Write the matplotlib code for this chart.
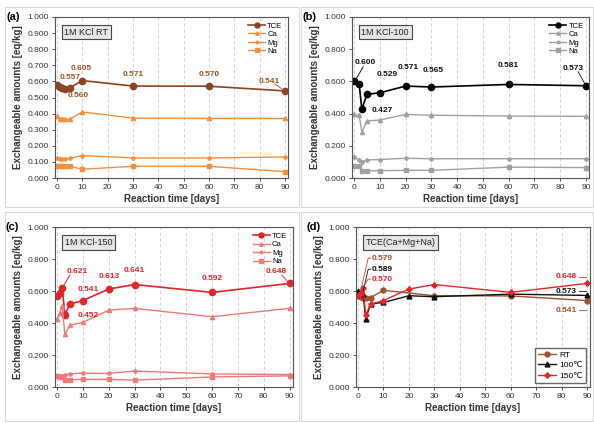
import matplotlib
matplotlib.use("Agg")
import matplotlib.pyplot as plt
from matplotlib.patches import Rectangle

plt.rcParams['font.family'] = ['Liberation Sans', 'DejaVu Sans']

# reaction times [days]
days_rt = [0, 1, 2, 3, 5, 10, 30, 60, 90]
days_100 = [0, 2, 3, 5, 10, 20, 30, 60, 90]
days_150 = [0, 1, 2, 3, 5, 10, 20, 30, 60, 90]

# (a) 1M KCl RT
tce_rt = [0.579, 0.565, 0.557, 0.555, 0.560, 0.605, 0.571, 0.570, 0.541]
ca_rt = [0.385, 0.368, 0.365, 0.365, 0.365, 0.410, 0.372, 0.370, 0.370]
mg_rt = [0.122, 0.120, 0.120, 0.120, 0.122, 0.140, 0.125, 0.125, 0.131]
na_rt = [0.078, 0.076, 0.074, 0.074, 0.074, 0.055, 0.073, 0.073, 0.040]

# (b) 1M KCl-100
tce_100 = [0.600, 0.582, 0.427, 0.520, 0.529, 0.571, 0.565, 0.581, 0.573]
ca_100 = [0.395, 0.390, 0.285, 0.355, 0.360, 0.395, 0.390, 0.385, 0.383]
mg_100 = [0.130, 0.112, 0.100, 0.113, 0.115, 0.123, 0.120, 0.120, 0.120]
na_100 = [0.072, 0.075, 0.045, 0.045, 0.046, 0.048, 0.048, 0.068, 0.065]

# (c) 1M KCl-150
tce_150 = [0.570, 0.589, 0.621, 0.452, 0.519, 0.541, 0.613, 0.641, 0.592, 0.648]
ca_150 = [0.425, 0.464, 0.508, 0.329, 0.388, 0.404, 0.481, 0.492, 0.440, 0.492]
mg_150 = [0.072, 0.070, 0.072, 0.075, 0.083, 0.087, 0.085, 0.100, 0.082, 0.078]
na_150 = [0.070, 0.065, 0.060, 0.045, 0.045, 0.048, 0.048, 0.043, 0.063, 0.070]

# value labels: (text, x, y) in data units
labels_a = [("0.557", 5, 0.625), ("0.560", 8.5, 0.51), ("0.605", 9.5, 0.68),
            ("0.571", 30, 0.64), ("0.570", 60, 0.645), ("0.541", 84, 0.60)]
labels_b = [("0.600", 4.5, 0.72), ("0.427", 11, 0.42), ("0.529", 13, 0.64),
            ("0.571", 21, 0.685), ("0.565", 30.5, 0.67), ("0.581", 60, 0.70),
            ("0.573", 85, 0.68)]
labels_c = [("0.621", 8, 0.72), ("0.541", 12, 0.61), ("0.452", 12, 0.45),
            ("0.613", 20, 0.69), ("0.641", 30, 0.73), ("0.592", 60, 0.68),
            ("0.648", 85, 0.72)]

fig = plt.figure(figsize=(5.94, 4.23), dpi=100)

# panel frames
for x0, y0, w, h in [(5, 216, 294, 200), (301, 216, 292, 200),
                     (5, 2, 294, 209), (301, 2, 292, 209)]:
    fig.patches.append(Rectangle((x0 / 594, y0 / 423), w / 594, h / 423,
                                 transform=fig.transFigure, fill=False,
                                 edgecolor='#d9d9d9', linewidth=0.8))

ax_a = fig.add_axes([0.0926, 0.579, 0.392, 0.381])
ax_b = fig.add_axes([0.5926, 0.579, 0.399, 0.381])
ax_c = fig.add_axes([0.0926, 0.085, 0.400, 0.378])
ax_d = fig.add_axes([0.5993, 0.085, 0.394, 0.378])


def style_axis(ax, letter, title, ystep):
    ax.set_xlim(-0.8, 91.2)
    ax.set_ylim(0, 1.0)
    ax.set_xticks(range(0, 91, 10))
    n = int(round(1.0 / ystep))
    ax.set_yticks([i * ystep for i in range(n + 1)])
    ax.set_yticklabels([f"{i * ystep:.3f}" for i in range(n + 1)])
    ax.tick_params(labelsize=6, length=2.5, width=0.6, pad=2, colors='#333333')
    ax.grid(axis='x', linestyle=(0, (4, 3)), color='#cccccc', linewidth=0.6)
    ax.set_axisbelow(True)
    for s in ax.spines.values():
        s.set_color('#555555')
        s.set_linewidth(0.8)
    ax.set_xlabel("Reaction time [days]", fontsize=7, fontweight='bold',
                  color='#333333', labelpad=2)
    ax.set_ylabel("Exchangeable amounts [eq/kg]", fontsize=7,
                  fontweight='bold', color='#333333', labelpad=3)
    ax.text(-0.21, 1.0, f"({letter})", transform=ax.transAxes, fontsize=8,
            fontweight='bold', va='center', ha='left')
    ax.text(0.04, 0.905, title, transform=ax.transAxes, fontsize=6.5,
            va='center', ha='left', color='#222222',
            bbox=dict(boxstyle='square,pad=0.3', facecolor='#e6e6e6',
                      edgecolor='#444444', linewidth=0.8))


def draw_ions(ax, days, tce, ca, mg, na, c_main, c_ion):
    ax.plot(days, tce, color=c_main, marker='o', markersize=4.5, lw=1.2,
            label='TCE')
    ax.plot(days, ca, color=c_ion, marker='^', markersize=3, lw=1.0,
            label='Ca')
    ax.plot(days, mg, color=c_ion, marker='P', markersize=2.5, lw=1.0,
            label='Mg')
    ax.plot(days, na, color=c_ion, marker='s', markersize=3.5, lw=1.0,
            label='Na')
    leg = ax.legend(loc='upper right', frameon=False, fontsize=5.5,
                    handlelength=2.2, handletextpad=0.3, labelspacing=0.15,
                    borderaxespad=0.3, markerscale=0.8)
    return leg


def put_labels(ax, labels, color):
    for txt, x, y in labels:
        ax.text(x, y, txt, fontsize=6, fontweight='bold', color=color,
                ha='center', va='center')


# (a)
style_axis(ax_a, 'a', '1M KCl RT', 0.1)
draw_ions(ax_a, days_rt, tce_rt, ca_rt, mg_rt, na_rt, '#8a4520', '#f5913e')
put_labels(ax_a, labels_a, '#9a5528')
ax_a.plot([86, 90], [0.585, tce_rt[-1]], color='#9a5528', lw=0.6)

# (b)
style_axis(ax_b, 'b', '1M KCl-100', 0.2)
draw_ions(ax_b, days_100, tce_100, ca_100, mg_100, na_100, '#000000', '#a0a0a0')
put_labels(ax_b, labels_b, '#111111')
ax_b.plot([0.3, 3.5], [tce_100[0], 0.69], color='#111111', lw=0.7)
ax_b.plot([87, 90], [0.66, tce_100[-1]], color='#111111', lw=0.6)

# (c)
style_axis(ax_c, 'c', '1M KCl-150', 0.2)
draw_ions(ax_c, days_150, tce_150, ca_150, mg_150, na_150, '#e0262b', '#f07a7a')
put_labels(ax_c, labels_c, '#e0262b')
ax_c.plot([2, 5], [tce_150[2], 0.70], color='#e0262b', lw=0.7)
ax_c.plot([87, 90], [0.70, tce_150[-1]], color='#e0262b', lw=0.6)

# (d)
style_axis(ax_d, 'd', 'TCE(Ca+Mg+Na)', 0.2)
ax_d.plot(days_rt, tce_rt, color='#a0522d', marker='o', markersize=3.5,
          lw=1.0, label='RT')
ax_d.plot(days_100, tce_100, color='#111111', marker='^', markersize=3.5,
          lw=1.0, label='100\u2103')
ax_d.plot(days_150, tce_150, color='#e8262b', marker='P', markersize=3.5,
          lw=1.0, label='150\u2103')
ax_d.legend(loc='lower right', frameon=True, fancybox=False, fontsize=6,
            edgecolor='#444444', handlelength=2.2, handletextpad=0.3,
            labelspacing=0.3, borderaxespad=0.5)
for txt, y, col, x1 in [("0.579", 0.806, '#a0522d', 1.0),
                        ("0.589", 0.737, '#111111', 2.0),
                        ("0.570", 0.675, '#e8262b', 1.0)]:
    ax_d.text(5.5, y, txt, fontsize=6, fontweight='bold', color=col,
              ha='left', va='center')
    ax_d.plot([x1, 4, 5], [0.6, y, y], color=col, lw=0.6)
for txt, y, col in [("0.648", 0.69, '#e8262b'), ("0.573", 0.60, '#111111'),
                    ("0.541", 0.48, '#a0522d')]:
    ax_d.text(86, y, txt, fontsize=6, fontweight='bold', color=col,
              ha='right', va='center')
    ax_d.plot([87, 89.5], [y, y], color=col, lw=0.6)

fig.savefig("out.png", dpi=100)
